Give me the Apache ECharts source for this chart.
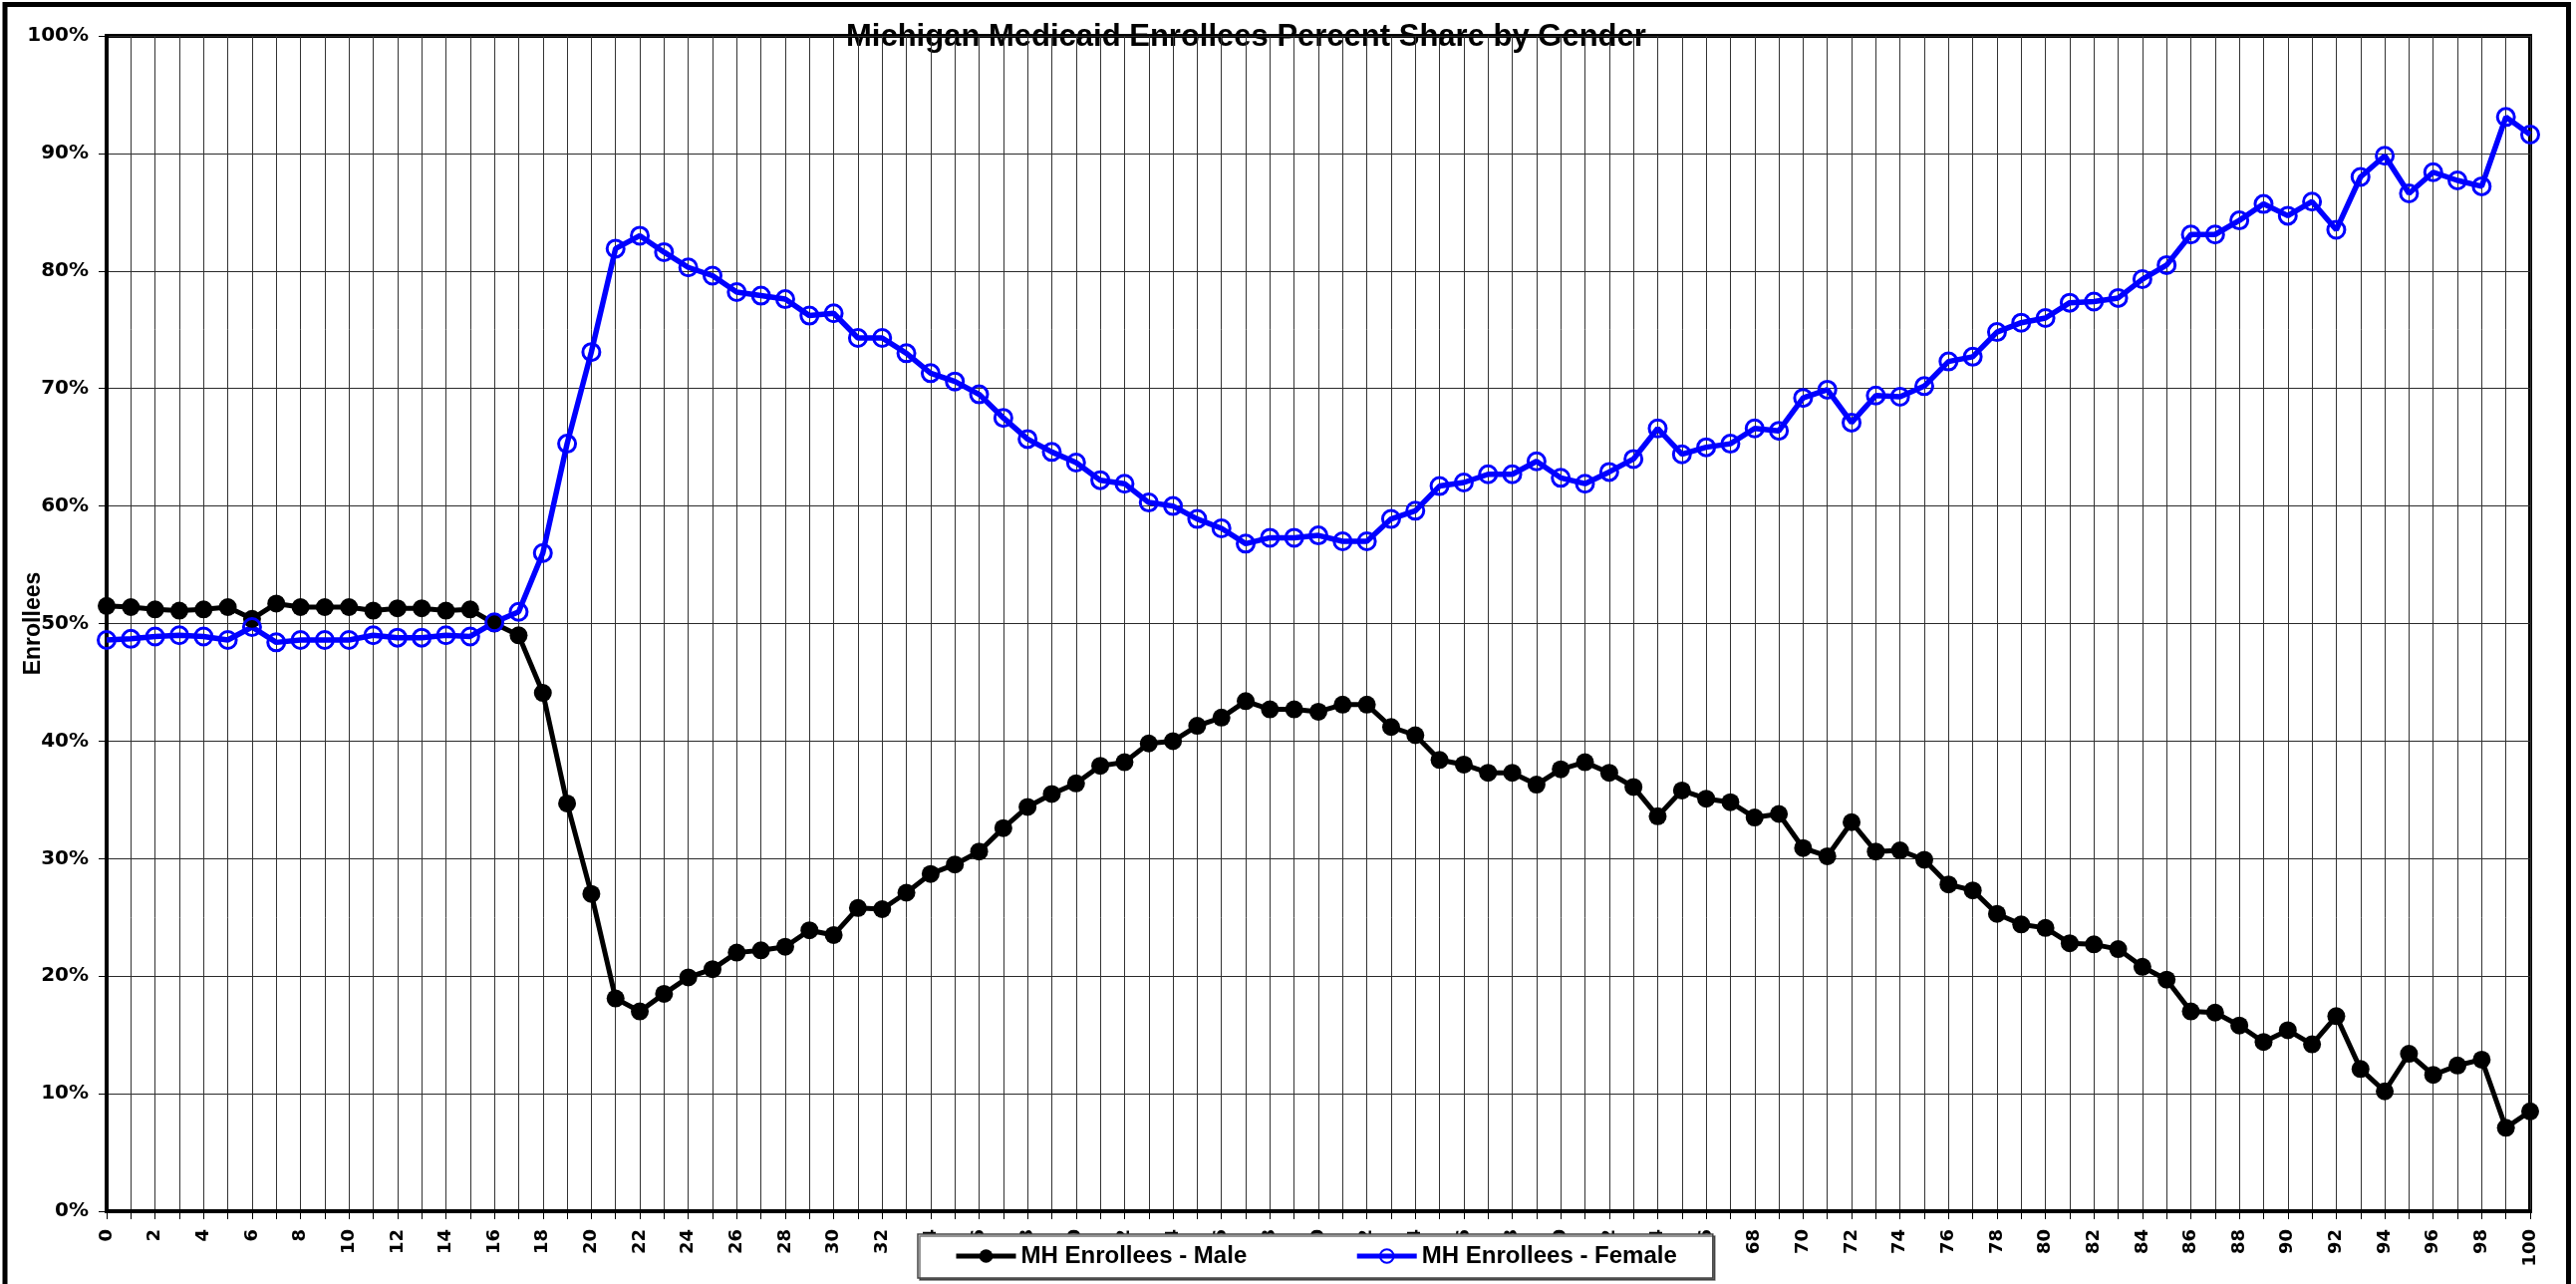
<!DOCTYPE html>
<html>
<head>
<meta charset="utf-8">
<title>Michigan Medicaid Enrollees Percent Share by Gender</title>
<script src="https://cdn.jsdelivr.net/npm/echarts@6/dist/echarts.min.js"></script>
<style>
  html, body { margin: 0; padding: 0; background: #ffffff; }
  #chart { width: 2585px; height: 1288px; }
</style>
</head>
<body>
<div id="chart"></div>
<script>
// Age categories (years)
const ages = [
  '0','1','2','3','4','5','6','7','8','9','10','11','12','13','14','15','16','17','18','19',
  '20','21','22','23','24','25','26','27','28','29','30','31','32','33','34','35','36','37','38','39',
  '40','41','42','43','44','45','46','47','48','49','50','51','52','53','54','55','56','57','58','59',
  '60','61','62','63','64','65','66','67','68','69','70','71','72','73','74','75','76','77','78','79',
  '80','81','82','83','84','85','86','87','88','89','90','91','92','93','94','95','96','97','98','99','100'
];

// Share of enrollees (%) by age
const maleShare = [
  51.5, 51.4, 51.2, 51.1, 51.2, 51.4, 50.4, 51.7, 51.4, 51.4,
  51.4, 51.1, 51.3, 51.3, 51.1, 51.2, 50.0, 49.0, 44.1, 34.7,
  27.0, 18.1, 17.0, 18.5, 19.9, 20.6, 22.0, 22.2, 22.5, 23.9,
  23.5, 25.8, 25.7, 27.1, 28.7, 29.5, 30.6, 32.6, 34.4, 35.5,
  36.4, 37.9, 38.2, 39.8, 40.0, 41.3, 42.0, 43.4, 42.7, 42.7,
  42.5, 43.1, 43.1, 41.2, 40.5, 38.4, 38.0, 37.3, 37.3, 36.3,
  37.6, 38.2, 37.3, 36.1, 33.6, 35.8, 35.1, 34.8, 33.5, 33.8,
  30.9, 30.2, 33.1, 30.6, 30.7, 29.9, 27.8, 27.3, 25.3, 24.4,
  24.1, 22.8, 22.7, 22.3, 20.8, 19.7, 17.0, 16.9, 15.8, 14.4,
  15.4, 14.2, 16.6, 12.1, 10.2, 13.4, 11.6, 12.4, 12.9, 7.1,
  8.5
];

const femaleShare = [
  48.6, 48.7, 48.9, 49.0, 48.9, 48.6, 49.7, 48.4, 48.6, 48.6,
  48.6, 49.0, 48.8, 48.8, 49.0, 48.9, 50.1, 51.0, 56.0, 65.3,
  73.1, 81.9, 83.0, 81.6, 80.3, 79.6, 78.2, 77.9, 77.6, 76.2,
  76.4, 74.3, 74.3, 73.0, 71.3, 70.6, 69.5, 67.5, 65.7, 64.6,
  63.7, 62.2, 61.9, 60.3, 60.0, 58.9, 58.1, 56.8, 57.3, 57.3,
  57.5, 57.0, 57.0, 58.9, 59.6, 61.7, 62.0, 62.7, 62.7, 63.8,
  62.4, 61.9, 62.9, 64.0, 66.6, 64.4, 65.0, 65.3, 66.6, 66.4,
  69.2, 69.9, 67.1, 69.4, 69.3, 70.2, 72.3, 72.7, 74.8, 75.6,
  76.0, 77.3, 77.4, 77.7, 79.3, 80.5, 83.1, 83.1, 84.3, 85.7,
  84.7, 85.9, 83.5, 88.0, 89.8, 86.6, 88.4, 87.7, 87.2, 93.1,
  91.6
];

const seriesNames = ['MH Enrollees - Male', 'MH Enrollees - Female'];
const titleText = 'Michigan Medicaid Enrollees Percent Share by Gender';
const yAxisName = 'Enrollees';

const chart = echarts.init(document.getElementById('chart'), null, { renderer: 'canvas' });

chart.setOption({
  backgroundColor: '#ffffff',
  animation: false,
  title: {
    text: titleText,
    left: 844,
    top: 17,
    z: -1,
    textStyle: {
      fontFamily: 'Liberation Sans',
      fontWeight: 'bold',
      fontSize: 31,
      color: '#000000'
    }
  },
  legend: {
    data: seriesNames,
    left: 921,
    top: 1238,
    orient: 'horizontal',
    itemWidth: 60,
    itemHeight: 17,
    itemGap: 108,
    padding: [10, 36, 10, 36],
    backgroundColor: '#ffffff',
    borderColor: '#444444',
    borderWidth: 1.5,
    shadowColor: 'rgba(0,0,0,0.55)',
    shadowOffsetX: 2,
    shadowOffsetY: 2,
    shadowBlur: 0,
    selectedMode: false,
    z: 10,
    lineStyle: { width: 5 },
    textStyle: {
      fontFamily: 'Liberation Sans',
      fontWeight: 'bold',
      fontSize: 24,
      color: '#000000'
    }
  },
  grid: {
    left: 107,
    top: 36,
    right: 46,
    bottom: 73,
    containLabel: false,
    outerBoundsMode: 'none',
    show: true,
    borderColor: '#000000',
    borderWidth: 4,
    backgroundColor: 'transparent'
  },
  xAxis: {
    type: 'category',
    data: ages,
    boundaryGap: false,
    axisLine: { show: true, onZero: false, lineStyle: { color: '#000000', width: 4 } },
    axisTick: { show: true, interval: 0, length: 8, lineStyle: { color: '#000000', width: 1 } },
    axisLabel: {
      interval: 1,
      rotate: 90,
      margin: 18,
      fontFamily: 'DejaVu Sans',
      fontWeight: 'bold',
      fontSize: 18,
      color: '#000000'
    },
    splitLine: { show: true, interval: 0, lineStyle: { color: '#333333', width: 1 } }
  },
  yAxis: {
    type: 'value',
    min: 0,
    max: 100,
    interval: 10,
    name: yAxisName,
    nameLocation: 'middle',
    nameGap: 62,
    nameRotate: 90,
    nameMoveOverlap: false,
    nameTextStyle: {
      fontFamily: 'Liberation Sans',
      fontWeight: 'bold',
      fontSize: 23,
      color: '#000000'
    },
    axisLine: { show: true, lineStyle: { color: '#000000', width: 4 } },
    axisTick: { show: true, length: 8, lineStyle: { color: '#000000', width: 1 } },
    axisLabel: {
      formatter: '{value}%',
      margin: 18,
      fontFamily: 'DejaVu Sans',
      fontWeight: 'bold',
      fontSize: 20,
      color: '#000000'
    },
    splitLine: { show: true, lineStyle: { color: '#2a2a2a', width: 1 } }
  },
  series: [
    {
      name: seriesNames[0],
      type: 'line',
      data: maleShare,
      symbol: 'circle',
      symbolSize: 18,
      showAllSymbol: true,
      z: 3,
      lineStyle: { color: '#000000', width: 5 },
      itemStyle: { color: '#000000', borderColor: '#000000', borderWidth: 0 }
    },
    {
      name: seriesNames[1],
      type: 'line',
      data: femaleShare,
      symbol: 'circle',
      symbolSize: 17,
      showAllSymbol: true,
      z: 3,
      lineStyle: { color: '#0000ff', width: 5.5 },
      itemStyle: { color: 'rgba(255,255,255,0)', borderColor: '#0000ff', borderWidth: 3 }
    }
  ],
  graphic: [
    {
      type: 'rect',
      silent: true,
      z: 100,
      shape: { x: 5, y: 4.5, width: 2572.5, height: 1300 },
      style: { fill: 'none', stroke: '#000000', lineWidth: 5 }
    }
  ]
});
</script>
</body>
</html>
